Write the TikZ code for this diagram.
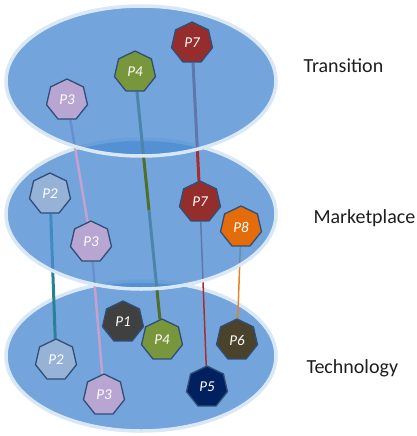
\documentclass[tikz,border=0pt]{standalone}
\usepackage{fontspec}
\setmainfont{Carlito}
\usetikzlibrary{shapes.geometric}
\definecolor{layerfill}{RGB}{75,140,210}
\definecolor{layeredge}{RGB}{218,232,246}
\definecolor{nodeedge}{RGB}{48,78,118}
\definecolor{labeltext}{RGB}{30,30,30}
\definecolor{cP1}{RGB}{64,64,64}
\definecolor{cP2}{RGB}{150,178,215}
\definecolor{cP3}{RGB}{185,165,210}
\definecolor{cP4}{RGB}{120,150,60}
\definecolor{cP5}{RGB}{0,32,96}
\definecolor{cP6}{RGB}{74,66,42}
\definecolor{cP7}{RGB}{150,45,45}
\definecolor{cP8}{RGB}{228,108,10}
\definecolor{lTeal}{RGB}{40,130,150}
\definecolor{lPink}{RGB}{200,160,205}
\definecolor{lGreen}{RGB}{80,110,40}
\definecolor{lRed}{RGB}{170,45,45}
\definecolor{lOrange}{RGB}{230,130,40}
\pgfdeclarelayer{ellA}
\pgfdeclarelayer{lineA}
\pgfdeclarelayer{ellB}
\pgfdeclarelayer{lineB}
\pgfdeclarelayer{ellC}
\pgfsetlayers{ellA,lineA,ellB,lineB,ellC,main}
\begin{document}
\begin{tikzpicture}[x=1pt,y=-1pt,
  layer/.style={ellipse, minimum width=270pt, minimum height=150pt, inner sep=0pt,
    fill=layerfill, fill opacity=0.78, draw=layeredge, line width=3.5pt},
  pnode/.style={regular polygon, regular polygon sides=7, minimum size=42pt, inner sep=0pt,
    draw=nodeedge, line width=1.3pt, text=white, font=\fontsize{15}{15}\selectfont\itshape},
  lbl/.style={anchor=base west, font=\fontsize{20}{20}\selectfont, text=labeltext},
  link/.style={line cap=butt}]
\useasboundingbox (0,0) rectangle (417,436);

% layers (ellipses)
\begin{pgfonlayer}{ellA}
  \node[layer] (tech) at (141,356) {};
\end{pgfonlayer}
\begin{pgfonlayer}{ellB}
  \node[layer] (market) at (141,214) {};
\end{pgfonlayer}
\begin{pgfonlayer}{ellC}
  \node[layer] (trans) at (141,81) {};
\end{pgfonlayer}

% top layer nodes
\node[pnode, fill=cP3] (t3) at (67,100) {P3};
\node[pnode, fill=cP4] (t4) at (135,72) {P4};
\node[pnode, fill=cP7] (t7) at (192,43) {P7};
% middle layer nodes
\node[pnode, fill=cP2] (m2) at (50,194) {P2};
\node[pnode, fill=cP3] (m3) at (91,242) {P3};
\node[pnode, fill=cP7] (m7) at (200,202) {P7};
\node[pnode, fill=cP8] (m8) at (241,227) {P8};
% bottom layer nodes
\node[pnode, fill=cP1] (b1) at (123,322) {P1};
\node[pnode, fill=cP4] (b4) at (162,340) {P4};
\node[pnode, fill=cP6] (b6) at (237,340) {P6};
\node[pnode, fill=cP2] (b2) at (56,360) {P2};
\node[pnode, fill=cP3] (b3) at (104,395) {P3};
\node[pnode, fill=cP5] (b5) at (207,387) {P5};

\coordinate (p4x) at (149,210);

% connectors from the top layer to the middle layer
\begin{pgfonlayer}{lineB}
  \draw[link, lPink, line width=2.5pt] (t3) -- (m3);
  \draw[link, lGreen, line width=3pt] (t4) -- (p4x);
  \draw[link, lRed, line width=3pt] (t7) -- (m7);
\end{pgfonlayer}
% connectors from the middle layer to the bottom layer
\begin{pgfonlayer}{lineA}
  \draw[link, lTeal, line width=3pt] (m2) -- (b2);
  \draw[link, lPink, line width=2.5pt] (m3) -- (b3);
  \draw[link, lGreen, line width=3pt] (p4x) -- (b4);
  \draw[link, lRed, line width=1.5pt] (m7) -- (b5);
  \draw[link, lOrange, line width=1.5pt] (m8) -- (b6);
\end{pgfonlayer}

% layer labels
\node[lbl] (ltrans) at (300,73) {Transition};
\node[lbl] (lmarket) at (310,223) {Marketplace};
\node[lbl] (ltech) at (303,373) {Technology};
\end{tikzpicture}
\end{document}
